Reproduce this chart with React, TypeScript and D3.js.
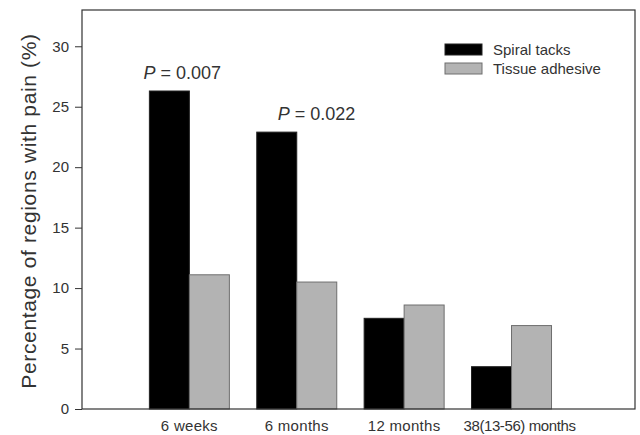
import { useEffect, useRef } from "react"
import { select, scaleLinear, axisLeft } from "d3"

// Data
const categories = ["6 weeks", "6 months", "12 months", "38(13-56) months"]
const spiralTacks = [26.3, 22.9, 7.5, 3.5]
const tissueAdhesive = [11.1, 10.5, 8.6, 6.9]
const yTicks = [0, 5, 10, 15, 20, 25, 30]
const pLabels = [{ group: 0, text: "0.007" }, { group: 1, text: "0.022" }]
const seriesNames = ["Spiral tacks", "Tissue adhesive"]

const W = 640
const H = 435
const FONT = "Arial, 'Liberation Sans', sans-serif"

export default function App() {
    const svgRef = useRef<SVGSVGElement>(null)

    useEffect(() => {
        const svg = select(svgRef.current)
        svg.selectAll("*").remove()

        const left = 82, right = 635, top = 10, bottom = 409
        const barW = 40
        // horizontal placement of the p-value labels, relative to the group centre
        const pShift = [-46, -19]

        const x = scaleLinear([0, 5.15], [left, right])
        const y = scaleLinear([0, 33], [bottom, top])

        svg.append("rect").attr("width", W).attr("height", H).attr("fill", "#fff")

        // bars
        const series = [
            { values: spiralTacks, fill: "#000", stroke: "#222", offset: -barW },
            { values: tissueAdhesive, fill: "#b3b3b3", stroke: "#6e6e6e", offset: 0 },
        ]
        series.forEach(s => {
            svg.append("g").selectAll("rect")
                .data(s.values)
                .join("rect")
                .attr("x", (_, i) => x(i + 1) + s.offset)
                .attr("y", d => y(d))
                .attr("width", barW)
                .attr("height", d => bottom - y(d))
                .attr("fill", s.fill)
                .attr("stroke", s.stroke)
                .attr("stroke-width", 1)
        })

        // frame
        svg.append("rect")
            .attr("x", left).attr("y", top)
            .attr("width", right - left).attr("height", bottom - top)
            .attr("fill", "none").attr("stroke", "#333").attr("stroke-width", 1.2)

        // y axis
        const yAxis = svg.append("g")
            .attr("transform", `translate(${left},0)`)
            .call(axisLeft(y).tickValues(yTicks).tickSize(7).tickPadding(6))
        yAxis.select(".domain").remove()
        yAxis.selectAll("line").attr("stroke", "#333")
        yAxis.selectAll("text")
            .attr("font-family", FONT).attr("font-size", 15).attr("fill", "#333")

        // x labels
        svg.append("g").selectAll("text")
            .data(categories)
            .join("text")
            .attr("x", (_, i) => x(i + 1) + (i === 3 ? 8 : 0))
            .attr("y", 431)
            .attr("text-anchor", "middle")
            .attr("font-family", FONT).attr("font-size", 15).attr("fill", "#333")
            .attr("letter-spacing", (_, i) => i === 3 ? -0.4 : 0.3)
            .text(d => d)

        // y title
        svg.append("text")
            .attr("transform", `translate(36,211) rotate(-90)`)
            .attr("text-anchor", "middle")
            .attr("font-family", FONT).attr("font-size", 21).attr("fill", "#333")
            .attr("letter-spacing", 0.65)
            .text("Percentage of regions with pain (%)")

        // P values
        pLabels.forEach((p, k) => {
            const t = svg.append("text")
                .attr("x", x(p.group + 1) + pShift[k])
                .attr("y", y(spiralTacks[p.group]) - 12)
                .attr("font-family", FONT).attr("font-size", 18).attr("fill", "#333")
            t.append("tspan").attr("font-style", "italic").text("P")
            t.append("tspan").text(` = ${p.text}`)
        })

        // legend
        const legend = svg.append("g").attr("transform", "translate(445,44)")
        seriesNames.forEach((name, i) => {
            legend.append("rect")
                .attr("x", 0).attr("y", i * 19)
                .attr("width", 37).attr("height", 11)
                .attr("fill", series[i].fill)
                .attr("stroke", series[i].stroke)
            legend.append("text")
                .attr("x", 48).attr("y", i * 19 + 11)
                .attr("font-family", FONT).attr("font-size", 15).attr("fill", "#333")
                .text(name)
        })
    }, [])

    return <svg ref={svgRef} width={W} height={H} style={{ display: "block", position: "absolute", left: 0, top: 0 }} />
}
